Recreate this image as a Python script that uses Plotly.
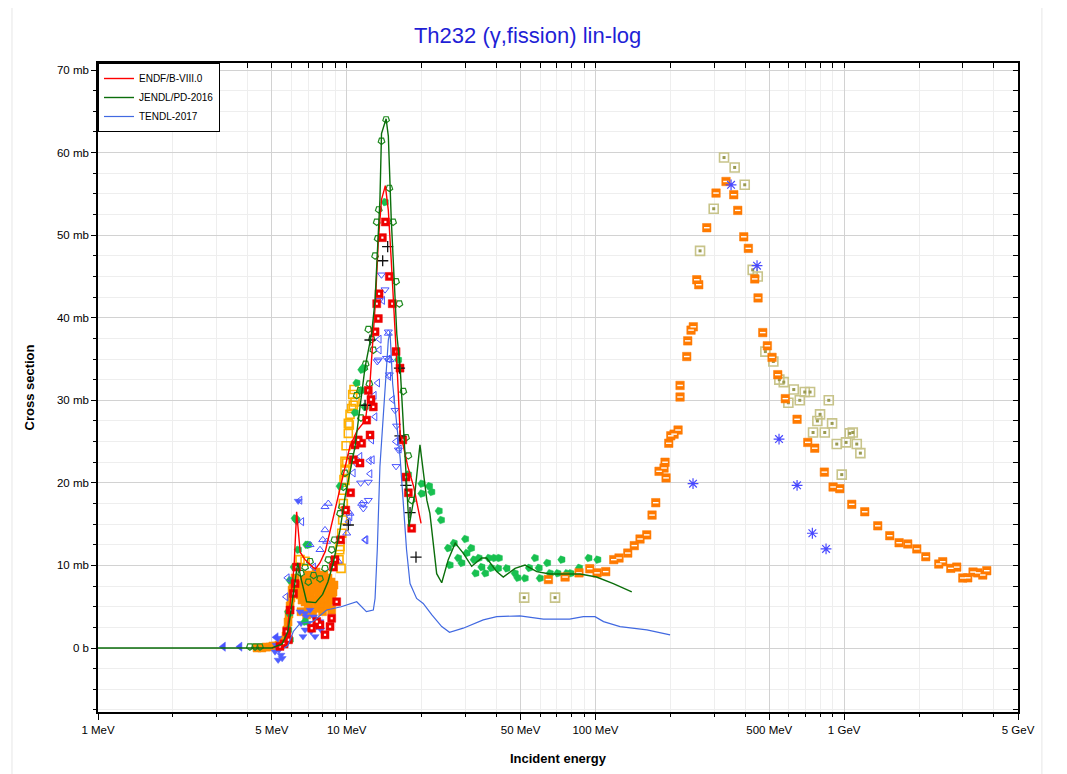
import plotly.graph_objects as go

# ---------------- evaluated data (E in MeV, sigma in mb) ----------------
endf_e = [5.0, 5.3, 5.6, 5.74, 5.8, 5.98, 6.14, 6.29, 6.4, 6.5, 6.8, 7.3, 7.5, 7.8, 8.2, 8.6, 9.1, 9.5,
          10.3, 11.0, 11.9, 12.4, 12.8, 13.05, 13.4, 13.8, 14.3, 14.7, 15.1, 15.45, 16.0, 16.4, 16.8,
          17.6, 18.6, 19.9]
endf_s = [0.0, 0.2, 0.4, 0.6, 2.6, 6.6, 9.8, 16.5, 14.3, 11.6, 10.7, 9.8, 9.6, 10.3, 11.7, 14.3, 17.3, 19.7,
          24.4, 26.3, 27.6, 32.0, 38.0, 42.0, 49.4, 54.3, 56.0, 53.0, 47.0, 42.0, 33.0, 26.0, 24.8,
          22.0, 19.5, 15.1]

jendl_e = [1.0, 5.0, 5.5, 5.8, 6.0, 6.2, 6.35, 6.6, 6.9, 7.5, 8.0, 8.4, 8.83, 9.4, 9.85, 10.8, 11.85,
           12.6, 13.0, 13.6, 13.8, 14.4, 14.7, 15.1, 15.64, 15.9, 16.4, 16.9, 17.4, 17.8, 18.8, 19.7,
           21.0, 21.6, 23.0, 24.1, 25.6, 27.3, 29.4, 31.8, 34.9, 36.5, 40.1, 42.6, 47.5, 52.1, 58.1,
           65.7, 76.7, 86.7, 101.0, 118.0, 140.0]
jendl_s = [0.0, 0.0, 0.5, 2.0, 5.0, 8.0, 10.3, 8.0, 5.6, 5.5, 6.5, 8.0, 10.3, 14.3, 18.3, 24.4, 34.0,
           38.1, 42.1, 54.3, 62.3, 64.1, 62.0, 52.0, 42.0, 38.0, 34.0, 26.0, 20.0, 14.7, 18.8, 24.6,
           17.9, 16.3, 9.0, 7.9, 10.7, 12.7, 11.5, 9.9, 10.9, 10.9, 9.25, 8.6, 9.65, 10.05, 9.25,
           8.96, 8.96, 8.96, 8.6, 7.8, 6.8]

tendl_e = [5.6, 5.8, 6.1, 6.5, 7.3, 8.3, 9.5, 10.97, 12.0, 12.79, 13.0, 13.27, 13.6, 14.26, 14.7, 14.93,
           15.3, 16.4, 17.4, 17.97, 19.1, 20.3, 22.0, 24.1, 25.9, 29.4, 35.4, 40.1, 49.7, 61.8, 78.7,
           89.4, 99.6, 107.8, 125.6, 161.0, 199.6]
tendl_s = [0.0, 0.3, 2.0, 3.0, 3.2, 4.6, 5.0, 5.6, 4.4, 4.6, 6.0, 11.9, 22.0, 32.0, 37.3, 38.3,
           32.0, 23.0, 11.9, 7.8, 6.0, 5.4, 4.0, 2.6, 1.9, 2.4, 3.4, 3.8, 3.9, 3.5, 3.5,
           3.8, 3.8, 3.2, 2.6, 2.2, 1.6]

# ---------------- experimental data ----------------
red_e = [14.3, 13.91, 14.84, 13.49, 13.40, 13.2, 15.25, 13.0, 15.79, 16.38, 12.21, 12.52, 12.79, 12.03,
         12.41, 11.13, 11.49, 10.80, 10.63, 11.31, 16.80, 10.37, 9.91, 9.46, 17.32, 17.69, 18.25, 8.97,
         8.83, 6.29, 6.20, 6.11, 5.92, 5.74, 5.83, 9.11, 8.70, 7.58, 7.81, 7.23, 8.18, 8.57, 5.39, 5.6]
red_s = [51.6, 49.7, 45.0, 42.9, 39.9, 41.7, 41.7, 38.3, 35.9, 33.9, 31.2, 30.1, 29.2, 27.6,
         25.8, 25.2, 24.8, 24.6, 22.8, 22.4, 25.2, 18.8, 16.7, 13.1, 20.7, 18.8, 14.5, 10.7,
         9.8, 9.8, 7.8, 6.6, 4.6, 2.0, 1.0, 5.6, 3.6, 3.2, 2.8, 2.4, 1.6, 2.6, 0.2, 0.5]

gho_e = [14.4, 13.8, 14.84, 13.45, 13.2, 15.36, 13.32, 13.0, 15.79, 16.28, 12.21, 12.61, 12.79, 11.91,
         11.77, 12.33, 11.31, 10.97, 11.41, 16.89, 17.32, 17.69, 18.25, 10.37, 9.84, 9.69, 9.55, 8.92,
         9.40, 8.70, 8.43, 8.18, 6.80, 7.12, 7.36, 6.55, 7.01, 7.81, 4.08, 4.28, 4.48]
gho_s = [64.0, 61.4, 55.7, 53.1, 51.6, 51.6, 49.6, 47.5, 44.4, 41.7, 38.6, 37.4, 36.1, 34.4,
         33.9, 32.0, 31.2, 30.6, 27.9, 31.1, 25.5, 23.3, 17.9, 23.2, 21.2, 19.5, 17.1, 13.1,
         16.3, 11.9, 10.7, 9.65, 9.8, 10.5, 8.8, 9.05, 8.0, 8.4, 0.16, 0.16, 0.16]

gfi_e = [17.69, 20.03, 21.48, 20.03, 21.95, 23.5, 24.0, 25.6, 27.0, 30.0, 31.7, 28.1, 30.4, 26.0, 29.0,
         34.0, 32.5, 37.3, 39.2, 41.0, 34.9, 38.1, 40.7, 44.0, 33.0, 36.1, 47.5, 48.7, 52.1, 54.2, 57.2,
         59.3, 64.1, 59.9, 65.7, 70.5, 73.2, 76.7, 79.6, 86.1, 94.0, 102.1,
         10.97, 11.49, 11.85, 11.49, 10.80, 9.40, 6.90, 11.66, 16.13, 14.26, 5.92, 5.83, 5.83,
         6.80, 6.14, 6.29, 6.38, 7.01, 6.20, 5.88, 5.92]
gfi_s = [21.0, 19.9, 19.6, 18.7, 18.9, 16.6, 15.5, 12.1, 12.7, 13.2, 12.1, 10.9, 11.5, 10.05, 10.3,
         10.9, 10.7, 10.9, 10.9, 10.9, 9.8, 9.7, 9.65, 9.65, 9.05, 9.05, 9.05, 8.5, 8.45, 9.7, 10.9,
         9.7, 10.3, 8.45, 9.05, 9.05, 10.7, 9.05, 9.05, 9.7, 10.9, 10.7,
         32.1, 31.2, 29.2, 33.7, 28.5, 19.6, 12.5, 33.9, 34.9, 54.0, 8.2, 4.4, 2.2,
         3.2, 9.8, 15.5, 11.9, 12.5, 15.7, 4.2, 1.0]

gold_e = [10.80, 10.63, 10.47, 10.31, 10.15, 10.15, 9.94, 9.84, 9.84, 9.75, 9.69, 10.57, 10.70, 10.24,
          10.0, 9.84, 9.69, 9.63, 9.55, 9.40, 9.37, 9.31, 9.49, 6.49, 6.80]
gold_s = [29.8, 29.4, 29.0, 28.3, 27.2, 26.0, 24.5, 22.6, 21.5, 20.4, 19.1, 30.7, 31.3, 27.0,
          22.4, 20.3, 17.5, 15.5, 13.9, 12.3, 11.9, 10.7, 9.65, 10.7, 10.5]

bdn_e = [13.8, 14.26, 13.52, 14.7, 14.46, 14.84, 13.4, 15.87, 15.64, 16.13, 15.79, 11.38, 12.21, 12.21,
         11.66, 11.66, 13.27, 10.87]
bdn_s = [45.2, 43.4, 42.1, 38.3, 35.1, 33.1, 34.9, 26.9, 28.8, 24.0, 22.0, 20.0, 20.1, 17.9,
         17.4, 16.9, 34.7, 22.4]
blf_e = [13.95, 13.52, 13.52, 14.76, 13.32, 14.71, 15.27, 12.91, 13.0, 12.61, 15.75, 16.28, 12.68, 12.33,
         10.63, 11.31, 10.63, 12.41, 11.96, 10.31, 10.15, 11.85, 6.49, 6.6, 7.36, 5.7, 5.77]
blf_s = [42.1, 37.4, 36.1, 32.9, 32.1, 35.0, 30.1, 30.6, 28.0, 25.2, 25.0, 24.1, 22.8, 22.7,
         24.5, 23.2, 21.2, 21.1, 13.1, 15.9, 15.3, 13.1, 17.9, 15.3, 9.8, 6.2, 8.5]
bup_e = [14.7, 14.93, 8.18, 8.43, 8.01, 8.18, 8.31, 7.81, 10.0, 10.31, 7.12, 11.49, 9.25]
bup_s = [38.1, 34.9, 17.1, 17.5, 13.1, 14.3, 12.9, 11.9, 13.9, 16.3, 12.5, 17.5, 10.5]

bfl_e = [3.19, 3.72, 5.2]
bfl_s = [0.16, 0.16, 1.3]

bcl_e = [5.3, 5.34, 5.44, 5.15, 5.3, 5.5, 5.2, 6.80, 7.12, 7.36, 6.99, 6.80, 7.19, 7.58, 7.81, 6.67,
         7.46, 7.88, 6.55, 6.86, 6.49, 6.38, 6.29]
bcl_s = [1.2, -0.24, -0.85, -0.45, -1.45, -1.25, 0.36, 4.2, 4.6, 3.8, 3.0, 2.2, 2.0, 2.6, 3.2, 1.4,
         1.4, 2.2, 3.0, 3.8, 4.4, 17.8, 15.3]

plus_e = [14.61, 13.95, 12.41, 16.3, 16.38, 17.32, 17.97, 10.15, 18.99, 11.85]
plus_s = [48.6, 46.9, 37.3, 33.9, 25.7, 19.7, 16.4, 14.9, 11.0, 29.4]

orl_e = [4.36, 4.56, 4.74, 4.92, 5.05, 5.20, 5.34, 5.44, 5.55, 5.65, 5.70, 5.75, 5.81, 5.86, 5.92, 5.97,
         6.03, 6.08, 6.20, 6.31, 6.43, 6.49, 6.61, 6.67, 6.73, 6.80, 6.86, 6.92, 6.99, 7.05, 7.12,
         7.19, 7.25, 7.32, 7.39, 7.46, 7.53, 7.60, 7.67, 7.74, 7.81, 7.88, 7.96, 8.03, 8.10, 8.18,
         8.26, 8.33, 8.41, 8.49, 8.57, 8.65, 8.73, 8.81, 8.89, 6.55, 6.9, 7.0, 7.3, 7.7, 8.0, 8.4, 8.7]
orl_s = [0.0, 0.0, 0.12, 0.12, 0.24, 0.24, 0.36, 0.48, 0.73, 0.97, 1.45, 2.18, 3.15, 4.12, 5.09, 6.06,
         7.02, 7.87, 8.48, 7.63, 7.02, 6.42, 5.81, 7.27, 8.24, 5.57, 6.78, 7.63, 8.84, 5.21, 6.42,
         7.27, 8.24, 5.81, 7.02, 7.87, 9.2, 5.21, 6.42, 7.39, 8.48, 5.81, 7.02, 7.87, 8.84, 5.21,
         6.42, 7.63, 8.48, 5.81, 7.02, 7.99, 5.81, 6.78, 7.63, 4.4, 4.0, 4.6, 4.2, 4.8, 4.4, 5.0, 4.6]

orh_e = [64.7, 75.5, 85.9, 94.9, 101.5, 110.0, 118.5, 124.4, 134.9, 143.3, 151.1, 160.8, 168.9, 174.8,
         180.2, 188.7, 190.5, 192.3, 197.2, 200.9, 207.1, 214.9, 218.9, 218.9, 232.9, 235.0, 242.3,
         247.5, 255.5, 260.3, 280.3, 305.4, 335.0, 359.8, 373.4, 394.8, 411.9, 437.0, 450.6, 470.7,
         491.2, 512.9, 540.8, 580.1, 646.7, 714.0, 761.6, 832.6, 902.6, 960.1, 1073, 1210, 1365,
         1525, 1663, 1802, 1959, 2129, 2401, 2491, 2683, 2836, 2999, 3141, 3298, 3445, 3608, 3745]
orh_s = [8.3, 8.6, 9.1, 9.6, 9.1, 9.25, 10.7, 10.9, 11.5, 12.4, 13.2, 13.7, 16.1, 17.6,
         21.4, 21.8, 22.5, 20.6, 24.8, 25.7, 25.9, 26.4, 31.8, 30.4, 35.3, 37.2, 38.5,
         38.9, 44.6, 44.0, 50.9, 55.1, 56.5, 54.9, 53.0, 49.8, 48.4, 44.7, 42.4, 38.2,
         36.6, 35.2, 33.1, 30.2, 27.7, 24.9, 24.2, 21.3, 19.5, 19.3, 17.4, 16.5, 14.8,
         13.6, 12.75, 12.6, 12.0, 11.06, 10.17, 10.45, 9.65, 9.8, 8.48, 8.5, 9.2, 9.1, 8.84, 9.36]

olv_e = [328.9, 362.9, 398.3, 298.9, 263.4, 428.8, 449.3, 482.2, 519.2, 548.8, 571.7, 596.6, 627.2,
         663.1, 694.5, 729.4, 800.0, 780.4, 867.3, 894.2, 749.8, 835.6, 1053, 1083, 933.9, 1018,
         1124, 1162, 977.9, 51.7, 68.8]
olv_s = [59.4, 58.2, 56.1, 53.2, 48.1, 45.8, 45.0, 35.9, 34.7, 32.5, 32.2, 29.7, 31.3,
         30.0, 31.0, 31.0, 28.3, 27.5, 30.0, 27.2, 26.1, 26.1, 26.0, 26.1, 24.7, 24.9,
         24.7, 23.6, 21.0, 6.1, 6.1]

ast_e = [351.0, 446.4, 547.2, 646.7, 745.0, 845.7, 246.8]
ast_s = [56.1, 46.3, 25.3, 19.7, 13.9, 12.0, 19.9]

x_major = [1, 5, 10, 50, 100, 500, 1000, 5000]
x_major_text = ["1 MeV", "5 MeV", "10 MeV", "50 MeV", "100 MeV", "500 MeV", "1 GeV", "5 GeV"]
x_minor = [2, 3, 4, 6, 7, 8, 9, 20, 30, 40, 60, 70, 80, 90, 200, 300, 400, 600, 700, 800, 900,
           2000, 3000, 4000]
y_major = [0, 10, 20, 30, 40, 50, 60, 70]
y_major_text = ["0 b", "10 mb", "20 mb", "30 mb", "40 mb", "50 mb", "60 mb", "70 mb"]
y_fine = [-7.5, -5, -2.5, 0, 2.5, 5, 7.5, 10, 12.5, 15, 17.5, 20, 22.5, 25, 27.5, 30, 32.5, 35, 37.5,
          40, 42.5, 45, 47.5, 50, 52.5, 55, 57.5, 60, 62.5, 65, 67.5, 70]

fig = go.Figure()


def pts(x, y, symbol, color, size, lw=1.2, angle=0, opacity=1.0):
    fig.add_trace(go.Scatter(x=x, y=y, mode="markers", showlegend=False, hoverinfo="skip",
                             opacity=opacity,
                             marker=dict(symbol=symbol, color=color, size=size, angle=angle,
                                         line=dict(width=lw, color=color))))


# experimental sets
pts(orl_e, orl_s, "square", "#ff8c00", 8, lw=0.5)
pts(bcl_e, bcl_s, "triangle-down", "#5060ff", 7, lw=0.5)
pts(gold_e, gold_s, "square-open", "#ffb000", 8, lw=1.6)
pts(gho_e, gho_s, "pentagon-open", "#1f8a1f", 7, lw=1.2, angle=180)
pts(gfi_e, gfi_s, "pentagon", "#18c050", 8, lw=0.5, angle=-90)
pts(bdn_e, bdn_s, "triangle-down-open", "#4a55ff", 7, lw=1.0)
pts(blf_e, blf_s, "triangle-left-open", "#4a55ff", 7, lw=1.0)
pts(bup_e, bup_s, "triangle-up-open", "#4a55ff", 7, lw=1.0)
pts(bfl_e, bfl_s, "triangle-left", "#4a55ff", 8, lw=0.5)
pts(red_e, red_s, "square", "#ee0000", 8, lw=0.5)
pts(red_e, red_s, "square", "white", 2.2, lw=0)
pts(plus_e, plus_s, "cross-thin-open", "#111111", 8, lw=1.3)
pts(olv_e, olv_s, "square-open", "#c8c48a", 9, lw=1.6)
pts(olv_e, olv_s, "square", "#9a9a50", 3, lw=0)
pts(orh_e, orh_s, "square", "#ff7a00", 8.5, lw=0.5)
pts(orh_e, orh_s, "line-ew-open", "white", 4, lw=1.4)
pts(ast_e, ast_s, "asterisk-open", "#4848ff", 9, lw=1.2)

# evaluations
fig.add_trace(go.Scatter(x=endf_e, y=endf_s, mode="lines", name="ENDF/B-VIII.0",
                         line=dict(color="#ff0000", width=1.4), hoverinfo="skip"))
fig.add_trace(go.Scatter(x=jendl_e, y=jendl_s, mode="lines", name="JENDL/PD-2016",
                         line=dict(color="#0b6e0b", width=1.4), hoverinfo="skip"))
fig.add_trace(go.Scatter(x=tendl_e, y=tendl_s, mode="lines", name="TENDL-2017",
                         line=dict(color="#4169e1", width=1.2), hoverinfo="skip"))
# helper trace for mirrored tick axes
fig.add_trace(go.Scatter(x=[1], y=[None], xaxis="x2", yaxis="y2", showlegend=False,
                         hoverinfo="skip", mode="markers"))

x_rng = [0, 3.69897]
y_rng = [-7.75, 70.85]

fig.update_layout(
    template="none",
    width=1067, height=774,
    margin=dict(l=90, r=57, t=55, b=70),
    paper_bgcolor="white", plot_bgcolor="white",
    font=dict(family="Arial, Liberation Sans, sans-serif", size=11.5, color="black"),
    title=dict(text="Th232 (γ,fission) lin-log", x=0.487, xanchor="center", y=0.965,
               yanchor="middle", font=dict(size=22, color="#1f1fd6")),
    showlegend=True,
    legend=dict(x=0, y=1, xanchor="left", yanchor="top", bgcolor="white",
                bordercolor="black", borderwidth=1, font=dict(size=10),
                itemwidth=30, tracegroupgap=0),
    xaxis=dict(type="log", range=x_rng, tickvals=x_major, ticktext=x_major_text,
               ticks="outside", ticklen=6, tickcolor="black", showline=True, linecolor="black",
               linewidth=1.5, mirror=True, showgrid=True, gridcolor="#d2d2d2", gridwidth=1.2,
               zeroline=False, automargin=False,
               minor=dict(tickvals=x_minor, ticks="outside", ticklen=3, tickcolor="black",
                          showgrid=True, gridcolor="#eeeeee", gridwidth=1),
               title=dict(text="Incident energy", standoff=19,
                          font=dict(size=13, weight="bold"))),
    yaxis=dict(range=y_rng, tickvals=y_major, ticktext=y_major_text, ticks="outside", ticklen=5,
               tickcolor="black", showline=True, linecolor="black", linewidth=1.5, mirror=True,
               showgrid=True, gridcolor="#d2d2d2", gridwidth=1.2, zeroline=False, automargin=False,
               minor=dict(dtick=2.5, tick0=0, ticks="outside", ticklen=3, tickcolor="black",
                          showgrid=True, gridcolor="#eeeeee", gridwidth=1),
               title=dict(text="Cross section", standoff=19,
                          font=dict(size=13, weight="bold"))),
    xaxis2=dict(type="log", range=x_rng, overlaying="x", side="top", anchor="y",
                tickvals=x_major + x_minor, ticks="inside", ticklen=5, tickcolor="black",
                showticklabels=False, showgrid=False, zeroline=False, showline=False),
    yaxis2=dict(range=y_rng, overlaying="y", side="right", anchor="x",
                tickvals=y_fine, ticks="inside", ticklen=5, tickcolor="black",
                showticklabels=False, showgrid=False, zeroline=False, showline=False),
    shapes=[dict(type="rect", xref="paper", yref="paper", x0=-0.0935, x1=1.026, y0=-0.11, y1=1.0925,
                 line=dict(color="#e6e6e6", width=1), layer="below")],
)

fig.write_html("out.html")
